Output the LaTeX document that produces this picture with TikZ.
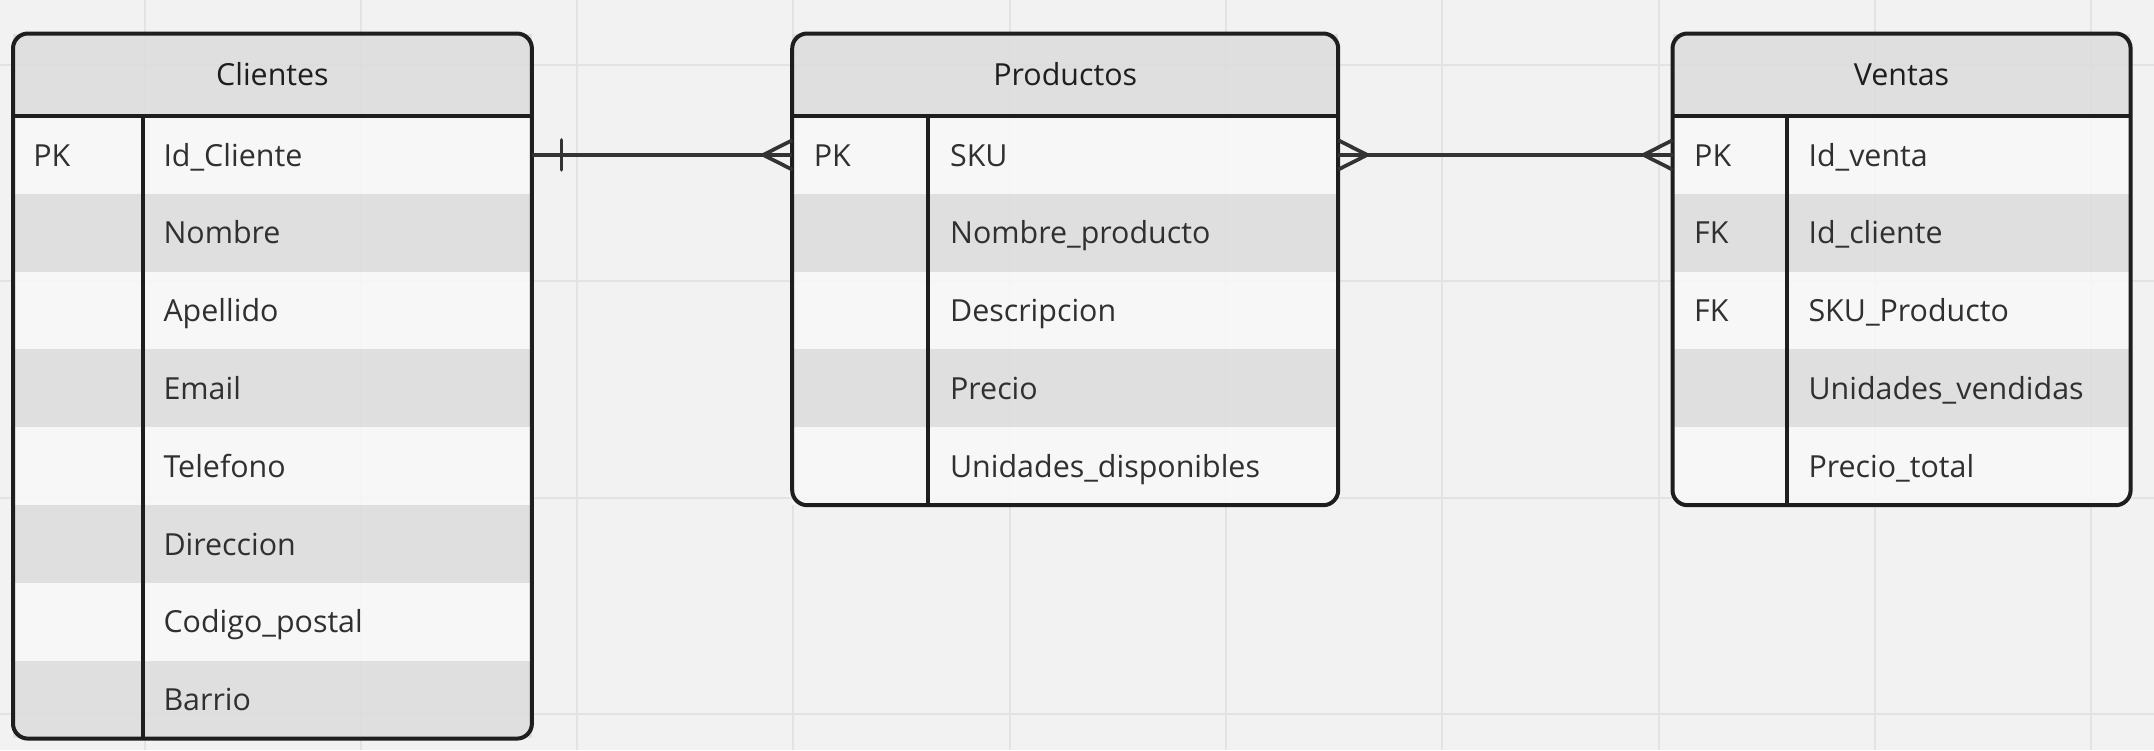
\documentclass[tikz,border=0pt]{standalone}
\usepackage{fontspec}
\setmainfont{Open Sans}
\usepackage{tikz}

\definecolor{bgc}{HTML}{F2F2F2}
\definecolor{gridc}{HTML}{E3E3E3}
\definecolor{hdrc}{HTML}{DDDDDD}
\definecolor{lightc}{HTML}{F8F8F8}
\definecolor{darkc}{HTML}{DDDDDD}
\definecolor{framec}{HTML}{1E1E1E}
\definecolor{txtc}{HTML}{303030}
\definecolor{linkc}{HTML}{333333}

\begin{document}
\begin{tikzpicture}
            [x=1pt,y=-1pt,
            hdr/.style={rectangle,inner sep=0pt,anchor=north west,fill=hdrc,fill opacity=.88,text opacity=1,
                minimum height=82.3pt,text height=21.7pt,text depth=0pt,font=\fontsize{30.4}{36}\selectfont,text=framec},
            lrow/.style={rectangle,inner sep=0pt,anchor=north west,fill=lightc,fill opacity=.88,minimum height=77.8pt},
            drow/.style={lrow,fill=darkc},
            fld/.style={inner sep=0pt,anchor=west,text height=22.5pt,text depth=0pt,text=txtc,font=\fontsize{30.4}{36}\selectfont},
            frame/.style={draw=framec,line width=4pt},
            link/.style={draw=linkc,line width=3.7pt}]
            \useasboundingbox (0,0) rectangle (2154,750);
            \fill[bgc] (0,0) rectangle (2154,750);
            \foreach \x in {144.5,360.8,577.1,793.4,1009.7,1226,1442.3,1658.6,1874.9,2091.2}
                \draw[gridc,line width=2pt] (\x,0) -- (\x,750);
            \foreach \y in {65,281.3,497.6,713.9}
                \draw[gridc,line width=2pt] (0,\y) -- (2154,\y);

            \node[hdr,minimum width=518.5pt] (ch) at (13,33.5) {Clientes};
            \node[lrow,minimum width=518.5pt] (c1) at (13,115.8) {};
            \node[drow,minimum width=518.5pt] (c2) at (13,193.6) {};
            \node[lrow,minimum width=518.5pt] (c3) at (13,271.4) {};
            \node[drow,minimum width=518.5pt] (c4) at (13,349.2) {};
            \node[lrow,minimum width=518.5pt] (c5) at (13,427.0) {};
            \node[drow,minimum width=518.5pt] (c6) at (13,504.8) {};
            \node[lrow,minimum width=518.5pt] (c7) at (13,582.6) {};
            \node[drow,minimum width=518.5pt] (c8) at (13,660.4) {};
            \draw[frame,rounded corners=15pt] (ch.north west) rectangle (c8.south east);
            \draw[frame] (ch.south west) -- (ch.south east);
            \draw[frame] ([xshift=129.6pt]c1.north west) -- ([xshift=129.6pt]c8.south west);
            \node[fld] (c1k) at ([xshift=20.2pt]c1.west) {PK};
            \node[fld] (c1n) at ([xshift=150.3pt]c1.west) {Id\_Cliente};
            \node[fld] (c2n) at ([xshift=150.3pt]c2.west) {Nombre};
            \node[fld] (c3n) at ([xshift=150.3pt]c3.west) {Apellido};
            \node[fld] (c4n) at ([xshift=150.3pt]c4.west) {Email};
            \node[fld] (c5n) at ([xshift=150.3pt]c5.west) {Telefono};
            \node[fld] (c6n) at ([xshift=150.3pt]c6.west) {Direccion};
            \node[fld] (c7n) at ([xshift=150.3pt]c7.west) {Codigo\_postal};
            \node[fld] (c8n) at ([xshift=150.3pt]c8.west) {Barrio};

            \node[hdr,minimum width=545.6pt] (ph) at (792.2,33.5) {Productos};
            \node[lrow,minimum width=545.6pt] (p1) at (792.2,115.8) {};
            \node[drow,minimum width=545.6pt] (p2) at (792.2,193.6) {};
            \node[lrow,minimum width=545.6pt] (p3) at (792.2,271.4) {};
            \node[drow,minimum width=545.6pt] (p4) at (792.2,349.2) {};
            \node[lrow,minimum width=545.6pt] (p5) at (792.2,427.0) {};
            \draw[frame,rounded corners=15pt] (ph.north west) rectangle (p5.south east);
            \draw[frame] (ph.south west) -- (ph.south east);
            \draw[frame] ([xshift=135.8pt]p1.north west) -- ([xshift=135.8pt]p5.south west);
            \node[fld] (p1k) at ([xshift=21.4pt]p1.west) {PK};
            \node[fld] (p1n) at ([xshift=157.7pt]p1.west) {SKU};
            \node[fld] (p2n) at ([xshift=157.7pt]p2.west) {Nombre\_producto};
            \node[fld] (p3n) at ([xshift=157.7pt]p3.west) {Descripcion};
            \node[fld] (p4n) at ([xshift=157.7pt]p4.west) {Precio};
            \node[fld] (p5n) at ([xshift=157.7pt]p5.west) {Unidades\_disponibles};

            \node[hdr,minimum width=457.7pt] (vh) at (1672.5,33.5) {Ventas};
            \node[lrow,minimum width=457.7pt] (v1) at (1672.5,115.8) {};
            \node[drow,minimum width=457.7pt] (v2) at (1672.5,193.6) {};
            \node[lrow,minimum width=457.7pt] (v3) at (1672.5,271.4) {};
            \node[drow,minimum width=457.7pt] (v4) at (1672.5,349.2) {};
            \node[lrow,minimum width=457.7pt] (v5) at (1672.5,427.0) {};
            \draw[frame,rounded corners=15pt] (vh.north west) rectangle (v5.south east);
            \draw[frame] (vh.south west) -- (vh.south east);
            \draw[frame] ([xshift=114.3pt]v1.north west) -- ([xshift=114.3pt]v5.south west);
            \node[fld] (v1k) at ([xshift=21.5pt]v1.west) {PK};
            \node[fld] (v2k) at ([xshift=21.5pt]v2.west) {FK};
            \node[fld] (v3k) at ([xshift=21.5pt]v3.west) {FK};
            \node[fld] (v1n) at ([xshift=135.8pt]v1.west) {Id\_venta};
            \node[fld] (v2n) at ([xshift=135.8pt]v2.west) {Id\_cliente};
            \node[fld] (v3n) at ([xshift=135.8pt]v3.west) {SKU\_Producto};
            \node[fld] (v4n) at ([xshift=135.8pt]v4.west) {Unidades\_vendidas};
            \node[fld] (v5n) at ([xshift=135.8pt]v5.west) {Precio\_total};

            \draw[link] (c1.east) -- (p1.west);
            \draw[link,line cap=round] ([xshift=29.5pt,yshift=15pt]c1.east) -- ([xshift=29.5pt,yshift=-15pt]c1.east);
            \draw[link] ([yshift=14.7pt]p1.west) -- ([xshift=-29pt]p1.west) -- ([yshift=-14.7pt]p1.west);
            \draw[link] (p1.east) -- (v1.west);
            \draw[link] ([yshift=14.7pt]p1.east) -- ([xshift=29pt]p1.east) -- ([yshift=-14.7pt]p1.east);
            \draw[link] ([yshift=14.7pt]v1.west) -- ([xshift=-29pt]v1.west) -- ([yshift=-14.7pt]v1.west);
        \end{tikzpicture}
\end{document}
